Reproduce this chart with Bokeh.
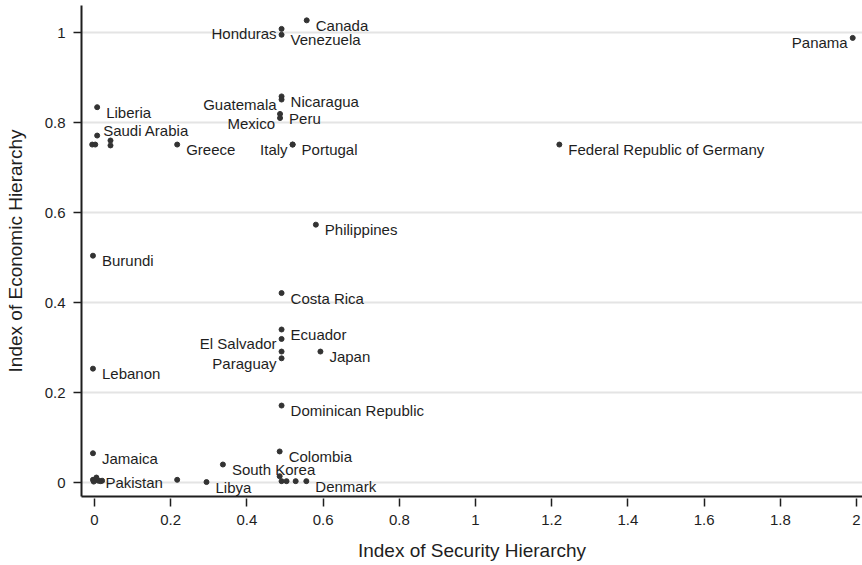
from bokeh.plotting import figure
from bokeh.models import ColumnDataSource, FixedTicker
from bokeh.core.properties import value
from bokeh.embed import file_html
from bokeh.resources import INLINE

# ---- data ----
# labelled countries: name, security hierarchy (x), economic hierarchy (y)
names = ["Canada", "Honduras", "Venezuela", "Panama", "Nicaragua", "Guatemala",
         "Liberia", "Peru", "Mexico", "Saudi Arabia", "Greece", "Italy", "Portugal",
         "Federal Republic of Germany", "Philippines", "Burundi", "Costa Rica",
         "Ecuador", "El Salvador", "Japan", "Paraguay", "Lebanon",
         "Dominican Republic", "Colombia", "Jamaica", "South Korea", "Pakistan",
         "Libya", "Denmark"]
sec = [0.557, 0.491, 0.491, 1.990, 0.491, 0.491,
       0.007, 0.487, 0.487, 0.007, 0.217, 0.520, 0.520,
       1.220, 0.581, -0.004, 0.491,
       0.491, 0.491, 0.593, 0.491, -0.004,
       0.491, 0.486, -0.004, 0.337, 0.005,
       0.294, 0.556]
eco = [1.027, 1.008, 0.995, 0.988, 0.858, 0.851,
       0.834, 0.819, 0.810, 0.771, 0.751, 0.751, 0.751,
       0.751, 0.573, 0.504, 0.421,
       0.340, 0.319, 0.291, 0.276, 0.253,
       0.171, 0.069, 0.065, 0.040, 0.011,
       0.001, 0.003]
# side on which each label is drawn
side = ["r", "l", "r", "l", "r", "l",
        "r", "r", "l", "ur", "r", "l", "r",
        "r", "r", "r", "r",
        "r", "l", "r", "l", "r",
        "r", "r", "r", "r", "r",
        "r", "r"]

# unlabelled observations
sec_u = [0.491, -0.006, 0.002, 0.042, 0.042,
         -0.004, 0.010, 0.016, 0.020, -0.002,
         0.217, 0.486, 0.491, 0.504, 0.528]
eco_u = [0.291, 0.751, 0.751, 0.760, 0.749,
         0.006, 0.004, 0.003, 0.004, 0.002,
         0.006, 0.014, 0.003, 0.003, 0.003]

x_ticks = [0, 0.2, 0.4, 0.6, 0.8, 1, 1.2, 1.4, 1.6, 1.8, 2]
y_ticks = [0, 0.2, 0.4, 0.6, 0.8, 1]

FONT = "Liberation Sans"
INK = "#1e1e1e"

p = figure(width=862, height=565, x_range=(-0.0341, 2.0157), y_range=(-0.0311, 1.06),
           output_backend="svg", toolbar_location=None,
           min_border_left=81, min_border_right=0, min_border_top=5, min_border_bottom=69)
p.outline_line_color = None
p.background_fill_color = "white"
p.border_fill_color = "white"

p.xgrid.grid_line_color = None
p.ygrid.grid_line_color = "#e4e4e4"
p.ygrid.grid_line_width = 2

p.xaxis.ticker = FixedTicker(ticks=x_ticks)
p.yaxis.ticker = FixedTicker(ticks=y_ticks)
p.xaxis.major_label_overrides = {t: (str(int(t)) if t == int(t) else str(t)) for t in x_ticks}
p.yaxis.major_label_overrides = {t: (str(int(t)) if t == int(t) else str(t)) for t in y_ticks}

for ax in (p.xaxis[0], p.yaxis[0]):
    ax.axis_line_color = INK
    ax.axis_line_width = 2
    ax.major_tick_line_color = INK
    ax.major_tick_line_width = 1.5
    ax.minor_tick_line_color = None
    ax.major_label_text_font = FONT
    ax.major_label_text_font_size = "15px"
    ax.major_label_text_color = INK
    ax.axis_label_text_font = FONT
    ax.axis_label_text_font_size = "19px"
    ax.axis_label_text_font_style = "normal"
    ax.axis_label_text_color = INK

p.xaxis.major_tick_in = -2
p.xaxis.major_tick_out = 10
p.xaxis.major_label_standoff = 8
p.xaxis.axis_label_standoff = 12
p.yaxis.major_tick_in = 0
p.yaxis.major_tick_out = 8
p.yaxis.major_label_standoff = 8
p.yaxis.axis_label_standoff = 16

p.xaxis.axis_label = "Index of Security Hierarchy"
p.yaxis.axis_label = "Index of Economic Hierarchy"

DOT = "#333333"
p.scatter(sec_u, eco_u, size=5, color=DOT)
p.scatter(sec, eco, size=5, color=DOT)

def pick(s):
    idx = [i for i, v in enumerate(side) if v == s]
    return ColumnDataSource(dict(x=[sec[i] for i in idx], y=[eco[i] for i in idx],
                                 t=[names[i] for i in idx]))

common = dict(text="t", text_font=value(FONT), text_font_size="15px",
              text_color=INK, text_baseline="middle")
p.text("x", "y", source=pick("r"), text_align="left", x_offset=9, y_offset=5, **common)
p.text("x", "y", source=pick("l"), text_align="right", x_offset=-5, y_offset=5, **common)
p.text("x", "y", source=pick("ur"), text_align="left", x_offset=6, y_offset=-5, **common)

open("out.html", "w").write(file_html(p, INLINE))
